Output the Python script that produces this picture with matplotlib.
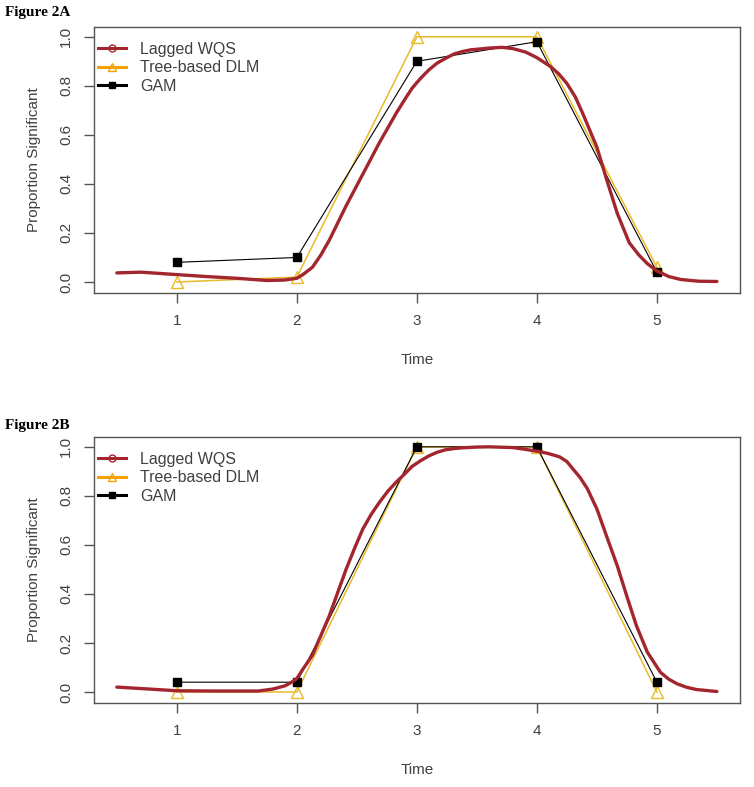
import matplotlib
matplotlib.use("Agg")
from matplotlib import pyplot as plt
from matplotlib.lines import Line2D

plt.rcParams["font.family"] = ["Liberation Sans", "DejaVu Sans"]

time_points = [1, 2, 3, 4, 5]

# Figure 2A
tree_a = [0.0, 0.02, 1.0, 1.0, 0.06]
gam_a = [0.08, 0.10, 0.90, 0.98, 0.04]
wqs_a_x = [0.5, 0.7, 1.0, 1.25, 1.5, 1.75, 1.9, 2.0, 2.05, 2.13, 2.2, 2.27, 2.34, 2.41,
           2.48, 2.55, 2.62, 2.69, 2.76, 2.83, 2.9, 2.96, 3.03, 3.1, 3.17, 3.25, 3.31,
           3.38, 3.45, 3.52, 3.6, 3.71, 3.8, 3.91, 4.0, 4.11, 4.18, 4.25, 4.32, 4.38,
           4.44, 4.5, 4.58, 4.67, 4.77, 4.85, 4.92, 5.0, 5.1, 5.2, 5.35, 5.5]
wqs_a_y = [0.037, 0.04, 0.03, 0.022, 0.015, 0.006, 0.008, 0.015, 0.03, 0.06, 0.11, 0.17,
           0.24, 0.31, 0.375, 0.44, 0.505, 0.57, 0.63, 0.69, 0.745, 0.79, 0.83, 0.865,
           0.893, 0.915, 0.93, 0.94, 0.947, 0.95, 0.954, 0.957, 0.952, 0.937, 0.915, 0.88,
           0.85, 0.81, 0.755, 0.69, 0.62, 0.55, 0.42, 0.28, 0.16, 0.11, 0.075, 0.045,
           0.022, 0.01, 0.003, 0.002]

# Figure 2B
tree_b = [0.0, 0.0, 1.0, 1.0, 0.0]
gam_b = [0.04, 0.04, 1.0, 1.0, 0.04]
wqs_b_x = [0.5, 0.77, 1.0, 1.3, 1.68, 1.8, 1.9, 1.95, 2.0, 2.06, 2.13, 2.2, 2.27, 2.34,
           2.41, 2.48, 2.55, 2.62, 2.69, 2.76, 2.83, 2.9, 2.96, 3.03, 3.1, 3.17, 3.24,
           3.31, 3.38, 3.5, 3.6, 3.8, 3.9, 4.02, 4.1, 4.19, 4.25, 4.3, 4.36, 4.42, 4.5,
           4.58, 4.67, 4.75, 4.83, 4.92, 5.03, 5.1, 5.17, 5.25, 5.33, 5.5]
wqs_b_y = [0.02, 0.012, 0.005, 0.004, 0.004, 0.012, 0.025, 0.038, 0.055, 0.1, 0.15, 0.23,
           0.31, 0.405, 0.50, 0.585, 0.665, 0.725, 0.775, 0.82, 0.857, 0.89, 0.92, 0.943,
           0.963, 0.978, 0.988, 0.993, 0.996, 0.999, 1.0, 0.997, 0.99, 0.981, 0.972, 0.959,
           0.94, 0.91, 0.875, 0.83, 0.747, 0.637, 0.515, 0.39, 0.27, 0.163, 0.08, 0.052,
           0.033, 0.019, 0.01, 0.002]

WQS_COL = "#a3262e"
TREE_COL = "#e8bb2a"
TREE_LEG = "#f5a300"
GAM_COL = "black"
AX_COL = "#555555"
TXT_COL = "#404040"


def draw_panel(ax, wqs_x, wqs_y, tree, gam):
    ax.plot(time_points, tree, color=TREE_COL, lw=1.1, marker="^", ms=8,
            mfc="none", mec=TREE_COL, mew=1.0, zorder=2)
    ax.plot(time_points, gam, color=GAM_COL, lw=0.8, marker="s", ms=5.5,
            mfc=GAM_COL, mec=GAM_COL, zorder=3)
    ax.plot(wqs_x, wqs_y, color=WQS_COL, lw=2.4, solid_joinstyle="round",
            solid_capstyle="round", zorder=4)

    ax.set_xlim(0.31, 5.69)
    ax.set_ylim(-0.045, 1.04)
    ax.set_xticks(time_points)
    ax.set_yticks([0.0, 0.2, 0.4, 0.6, 0.8, 1.0])
    ax.set_yticklabels(["0.0", "0.2", "0.4", "0.6", "0.8", "1.0"], rotation=90, va="center")
    ax.tick_params(direction="out", length=7, width=1, colors=AX_COL, labelcolor=TXT_COL,
                   labelsize=11, pad=8)
    for s in ax.spines.values():
        s.set_color(AX_COL)
        s.set_linewidth(1.0)
    ax.set_xlabel("Time", fontsize=11, color=TXT_COL, labelpad=18)
    ax.set_ylabel("Proportion Significant", fontsize=11, color=TXT_COL, labelpad=13)

    handles = [
        Line2D([], [], color=WQS_COL, lw=2.2, marker="o", ms=5, mfc="none", mec=WQS_COL),
        Line2D([], [], color=TREE_LEG, lw=2.2, marker="^", ms=6, mfc="none", mec=TREE_LEG),
        Line2D([], [], color=GAM_COL, lw=2.2, marker="s", ms=5, mfc=GAM_COL, mec=GAM_COL),
    ]
    leg = ax.legend(handles, ["Lagged WQS", "Tree-based DLM", "GAM"], loc="upper left",
                    frameon=False, fontsize=11.5, handlelength=1.75, handletextpad=0.9,
                    labelspacing=0.22, borderaxespad=0.0, borderpad=0.0,
                    bbox_to_anchor=(0.006, 0.944))
    for t in leg.get_texts():
        t.set_color(TXT_COL)


fig = plt.figure(figsize=(7.54, 7.87), dpi=100)
ax_a = fig.add_axes([0.1247, 0.6277, 0.8563, 0.338])
ax_b = fig.add_axes([0.1247, 0.1067, 0.8563, 0.338])

draw_panel(ax_a, wqs_a_x, wqs_a_y, tree_a, gam_a)
draw_panel(ax_b, wqs_b_x, wqs_b_y, tree_b, gam_b)

fig.text(0.007, 0.984, "Figure 2A", family="Liberation Serif", weight="bold",
         fontsize=11, va="center", ha="left")
fig.text(0.007, 0.459, "Figure 2B", family="Liberation Serif", weight="bold",
         fontsize=11, va="center", ha="left")

fig.savefig("out.png", dpi=100)
